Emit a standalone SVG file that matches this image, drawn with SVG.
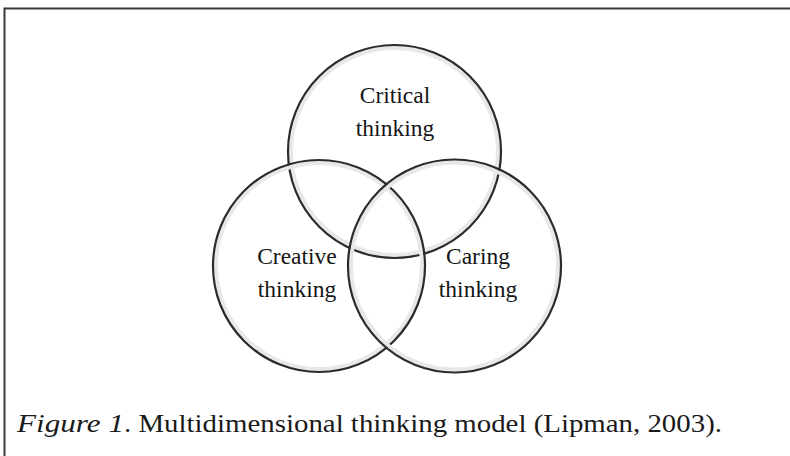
<svg xmlns="http://www.w3.org/2000/svg" width="790" height="456" viewBox="0 0 790 456">
  <style>
    .ring { fill: none; stroke: #2b2b2b; stroke-width: 2.2; }
    .halo { fill: none; stroke: #e8e8e8; stroke-width: 4; }
    .lbl { font-family: "Liberation Serif", "Times New Roman", serif; font-size: 23.5px; fill: #151515; text-anchor: middle; }
    .cap { font-family: "Liberation Serif", "Times New Roman", serif; font-size: 25px; fill: #1a1a1a; }
    .frame { stroke: #3a3a3a; stroke-width: 2; fill: none; }
  </style>
  <rect width="790" height="456" fill="#ffffff"/>
  <path class="frame" d="M4.5,456 V8.5 H790"/>
  <g id="critical">
    <circle class="halo" cx="394.5" cy="151.5" r="103.5"/>
    <circle class="ring" cx="394.5" cy="151.5" r="106.5"/>
    <text class="lbl" x="395" y="103">Critical</text>
    <text class="lbl" x="395" y="136">thinking</text>
  </g>
  <g id="creative">
    <circle class="halo" cx="319" cy="266" r="103"/>
    <circle class="ring" cx="319" cy="266" r="106"/>
    <text class="lbl" x="297" y="264">Creative</text>
    <text class="lbl" x="297" y="297">thinking</text>
  </g>
  <g id="caring">
    <circle class="halo" cx="454.5" cy="266" r="103.5"/>
    <circle class="ring" cx="454.5" cy="266" r="106.5"/>
    <text class="lbl" x="478" y="264">Caring</text>
    <text class="lbl" x="478" y="297">thinking</text>
  </g>
  <g id="connectors"/>
  <g id="caption">
    <text class="cap" x="17" y="432" font-style="italic" textLength="107" lengthAdjust="spacingAndGlyphs">Figure 1</text>
    <text class="cap" x="124" y="432" textLength="598" lengthAdjust="spacingAndGlyphs">. Multidimensional thinking model (Lipman, 2003).</text>
  </g>
</svg>
